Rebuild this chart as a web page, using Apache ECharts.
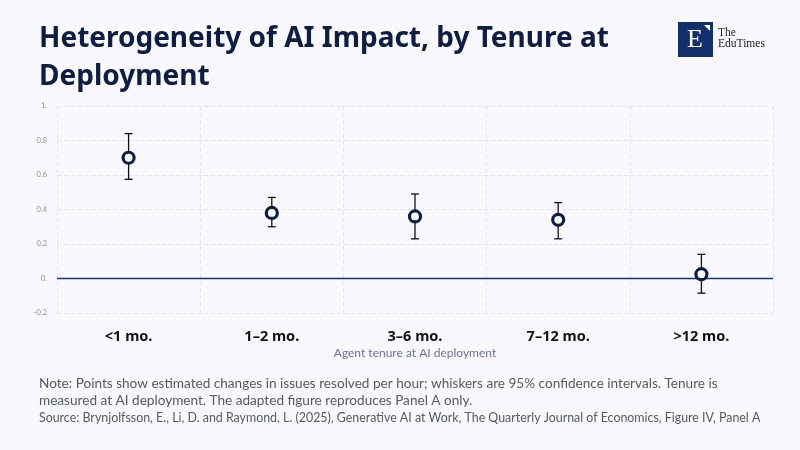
<!DOCTYPE html>
<html lang="en">
<head>
    <meta charset="UTF-8">
    <title>Heterogeneity of AI Impact, by Tenure at Deployment</title>
    <style>
        * {
            margin: 0;
            padding: 0;
            box-sizing: border-box;
        }

        body {
            background: #f8f8fe;
        }

        .chart {
            width: 800px;
            height: 450px;
        }
    </style>
</head>
<body>
<div class="chart" id="chart"></div>

<script src="https://cdn.jsdelivr.net/npm/echarts@6.0.0/dist/echarts.min.js"></script>
<script>
    // tenure groups and estimates
    const categories = ['<1 mo.', '1–2 mo.', '3–6 mo.', '7–12 mo.', '>12 mo.']
    const estimates = [0.70, 0.38, 0.36, 0.34, 0.025]
    const ciLow = [0.575, 0.30, 0.23, 0.23, -0.085]
    const ciHigh = [0.84, 0.47, 0.49, 0.44, 0.14]

    const navy = '#0f1d40'
    const font = 'Lato, "Noto Sans", sans-serif'
    const headFont = '"Noto Sans", Lato, sans-serif'

    const chartEle = document.getElementById('chart')
    const myChart = echarts.init(chartEle)

    // whiskers: [index, low, high]
    const whiskerData = categories.map((c, i) => [i, ciLow[i], ciHigh[i]])

    function renderWhisker(params, api) {
        const lo = api.coord([api.value(0), api.value(1)])
        const hi = api.coord([api.value(0), api.value(2)])
        const cap = 4
        const style = { stroke: '#111', lineWidth: 1.3 }
        return {
            type: 'group',
            children: [
                { type: 'line', shape: { x1: hi[0], y1: hi[1], x2: lo[0], y2: lo[1] }, style },
                { type: 'line', shape: { x1: hi[0] - cap, y1: hi[1], x2: hi[0] + cap, y2: hi[1] }, style },
                { type: 'line', shape: { x1: lo[0] - cap, y1: lo[1], x2: lo[0] + cap, y2: lo[1] }, style }
            ]
        }
    }

    const option = {
        backgroundColor: '#f8f8fe',
        animation: false,
        textStyle: { fontFamily: font },
        title: [
            {
                text: 'Heterogeneity of AI Impact, by Tenure at\nDeployment',
                left: 34,
                top: 15,
                textStyle: {
                    fontFamily: headFont,
                    fontSize: 28,
                    fontWeight: 'bold',
                    color: navy,
                    lineHeight: 38
                }
            },
            {
                text: 'Note: Points show estimated changes in issues resolved per hour; whiskers are 95% confidence intervals. Tenure is\nmeasured at AI deployment. The adapted figure reproduces Panel A only.',
                left: 34,
                top: 370,
                textStyle: {
                    fontFamily: font,
                    fontSize: 13.6,
                    fontWeight: 'normal',
                    color: '#555a66',
                    lineHeight: 17
                }
            },
            {
                text: 'Source: Brynjolfsson, E., Li, D. and Raymond, L. (2025), Generative AI at Work, The Quarterly Journal of Economics, Figure IV, Panel A',
                left: 34,
                top: 407,
                textStyle: {
                    fontFamily: font,
                    fontSize: 12.4,
                    fontWeight: 'normal',
                    color: '#555a66'
                }
            }
        ],
        graphic: [
            {
                type: 'rect',
                left: 678,
                top: 22,
                shape: { width: 35, height: 35 },
                style: { fill: '#14306a' }
            },
            {
                type: 'polygon',
                shape: { points: [[704, 25], [710, 25], [710, 31]] },
                style: { fill: '#ffffff' }
            },
            {
                type: 'text',
                left: 687,
                top: 27,
                style: { text: 'E', fill: '#ffffff', font: '26px "Liberation Serif", serif' }
            },
            {
                type: 'text',
                left: 718,
                top: 27,
                style: {
                    text: 'The\nEduTimes',
                    fill: '#222',
                    font: '11.5px "Liberation Serif", serif',
                    lineHeight: 11
                }
            }
        ],
        grid: {
            left: 57,
            right: 27,
            top: 106,
            bottom: 137
        },
        xAxis: {
            type: 'category',
            data: categories,
            name: 'Agent tenure at AI deployment',
            nameLocation: 'middle',
            nameGap: 34,
            nameTextStyle: { fontSize: 12, color: '#6c7394', fontFamily: font },
            axisLine: { show: false },
            axisTick: { show: false },
            axisLabel: {
                fontSize: 14.5,
                fontWeight: 'bold',
                color: '#111',
                margin: 16,
                fontFamily: headFont
            },
            splitLine: {
                show: true,
                interval: 0,
                lineStyle: { color: '#e2e3ee', type: [4, 3], width: 1 }
            }
        },
        yAxis: {
            type: 'value',
            min: -0.2,
            max: 1,
            interval: 0.2,
            axisLine: { show: false },
            axisTick: { show: false },
            axisLabel: {
                fontSize: 7.5,
                color: '#8a90a8',
                margin: 10,
                formatter: v => {
                    const r = Math.round(v * 10) / 10
                    return Number.isInteger(r) ? r + '.' : String(r)
                }
            },
            splitLine: {
                lineStyle: { color: '#e2e3ee', type: [4, 3], width: 1 }
            }
        },
        series: [
            {
                type: 'custom',
                renderItem: renderWhisker,
                data: whiskerData,
                encode: { x: 0, y: [1, 2] },
                z: 2,
                markLine: {
                    silent: true,
                    symbol: 'none',
                    label: { show: false },
                    lineStyle: { color: '#1a3468', type: 'solid', width: 1.3 },
                    data: [{ yAxis: 0 }]
                }
            },
            {
                type: 'scatter',
                data: estimates,
                symbol: 'circle',
                symbolSize: 11,
                itemStyle: {
                    color: '#ffffff',
                    borderColor: navy,
                    borderWidth: 3.2,
                    opacity: 1
                },
                z: 5
            }
        ]
    }

    myChart.setOption(option)
</script>
</body>
</html>
